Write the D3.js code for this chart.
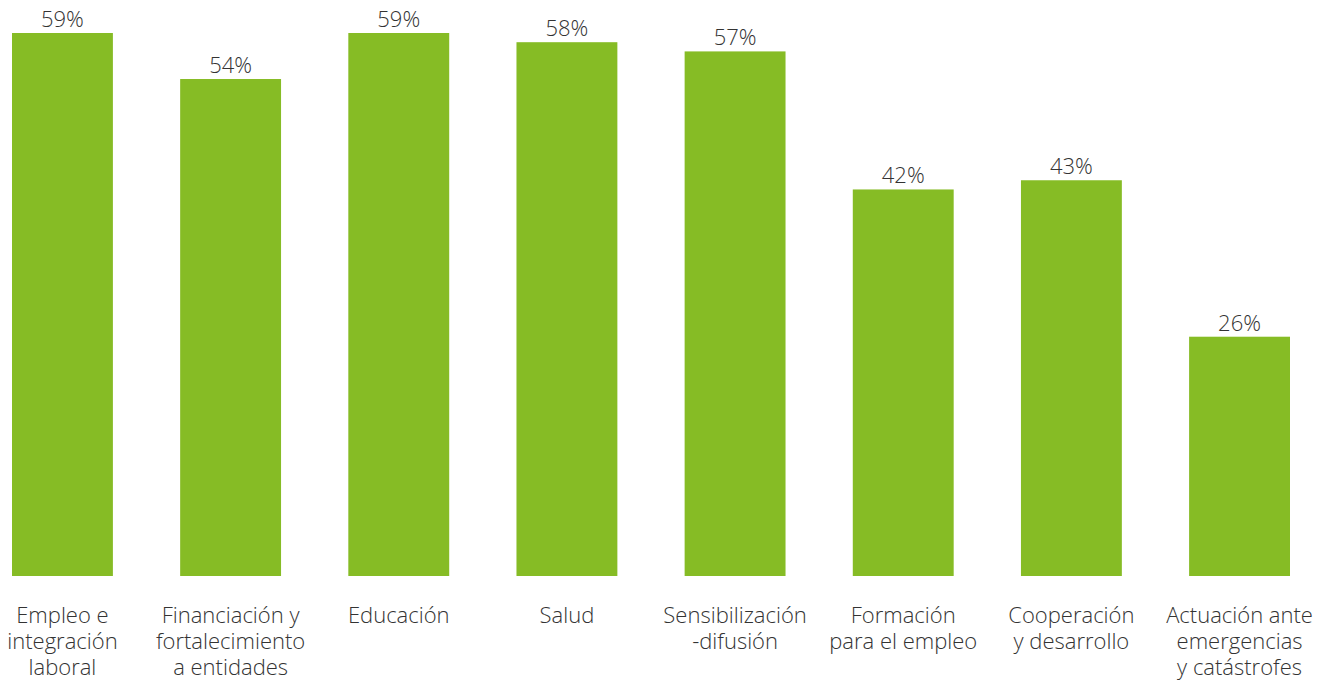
<!DOCTYPE html>
<html>
<head>
<meta charset="utf-8">
<script src="https://cdn.jsdelivr.net/npm/d3@7"></script>
<style>
  html, body { margin: 0; padding: 0; background: #fff; }
  svg { display: block; }
  text { font-family: "Open Sans", sans-serif; font-weight: 300; fill: #333; }
</style>
</head>
<body>
<script>
const categories = [
  ["Empleo e", "integración", "laboral"],
  ["Financiación y", "fortalecimiento", "a entidades"],
  ["Educación"],
  ["Salud"],
  ["Sensibilización", "-difusión"],
  ["Formación", "para el empleo"],
  ["Cooperación", "y desarrollo"],
  ["Actuación ante", "emergencias", "y catástrofes"]
];
const values = [59, 54, 59, 58, 57, 42, 43, 26];
const valueLabels = ["59%", "54%", "59%", "58%", "57%", "42%", "43%", "26%"];

const W = 1325, H = 681;
const svg = d3.select("body").append("svg").attr("width", W).attr("height", H);

const x = d3.scaleBand().domain(d3.range(values.length)).range([12, 1290]).paddingInner(0.4).paddingOuter(0);
const y = d3.scaleLinear().domain([0, 59]).range([576, 33]);

svg.selectAll("rect.bar").data(values).join("rect")
  .attr("class", "bar")
  .attr("x", (d, i) => x(i))
  .attr("width", x.bandwidth())
  .attr("y", d => y(d))
  .attr("height", d => y(0) - y(d))
  .attr("fill", "#86BC25");

svg.selectAll("text.val").data(values).join("text")
  .attr("class", "val")
  .attr("x", (d, i) => x(i) + x.bandwidth() / 2)
  .attr("y", d => y(d) - 6)
  .attr("text-anchor", "middle")
  .style("font-size", "22px")
  .text((d, i) => valueLabels[i]);

const cat = svg.selectAll("text.cat").data(categories).join("text")
  .attr("class", "cat")
  .attr("text-anchor", "middle")
  .style("font-size", "22px");
cat.each(function(lines, i) {
  d3.select(this).selectAll("tspan").data(lines).join("tspan")
    .attr("x", x(i) + x.bandwidth() / 2)
    .attr("y", (l, j) => 623 + j * 26)
    .text(l => l);
});
</script>
</body>
</html>
